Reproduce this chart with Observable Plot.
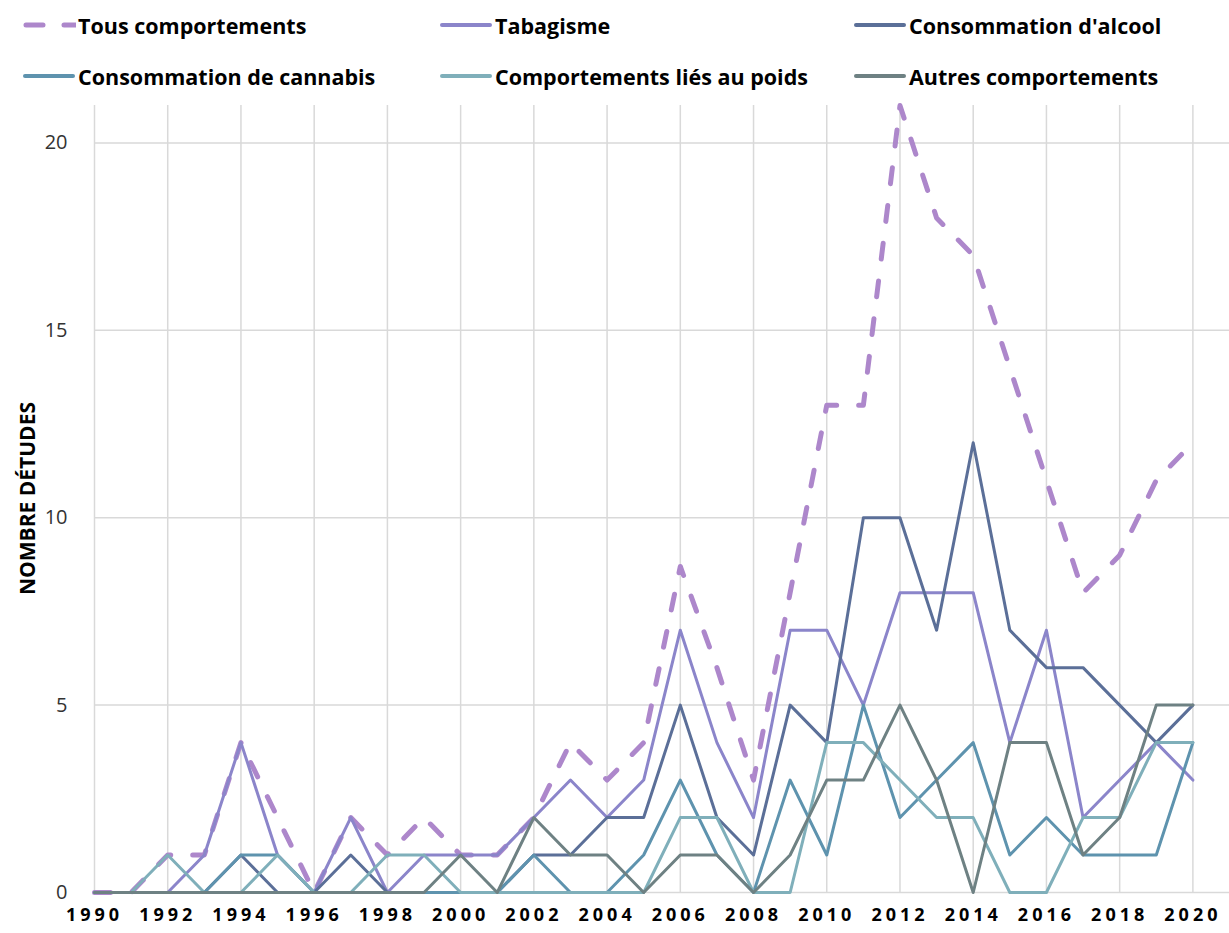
<!DOCTYPE html>
<html>
<head>
<meta charset="utf-8">
<script src="https://cdn.jsdelivr.net/npm/d3@7"></script>
<script src="https://cdn.jsdelivr.net/npm/@observablehq/plot@0.6"></script>
<style>
  html, body { margin: 0; padding: 0; background: #fff; }
  #wrap { position: relative; width: 1229px; height: 933px; font-family: "Open Sans", "Liberation Sans", sans-serif; }
  #legend { position: relative; width: 1229px; height: 95px; }
  .item { position: absolute; display: flex; align-items: center; height: 30px; white-space: nowrap;
          font-weight: 700; font-size: 21.5px; color: #000; letter-spacing: 0px; }
  .item svg { display: block; margin-right: 2px; }
  .xax text { letter-spacing: 4px; }
</style>
</head>
<body>
<div id="wrap">
  <div id="legend"></div>
  <div id="chart"></div>
</div>
<script>
// ---- data ----
const years = [1990,1991,1992,1993,1994,1995,1996,1997,1998,1999,2000,2001,2002,2003,2004,2005,2006,2007,2008,2009,2010,2011,2012,2013,2014,2015,2016,2017,2018,2019,2020];
const seriesNames = ["Tous comportements","Tabagisme","Consommation d'alcool","Consommation de cannabis","Comportements liés au poids","Autres comportements"];
const tous     = [0,0,1,1,4,2,0,2,1,2,1,1,2,4,3,4,8.7,6,3,8,13,13,21,18,17,14,11,8,9,11,12];
const tabac    = [0,0,0,1,4,1,0,2,0,1,1,1,2,3,2,3,7,4,2,7,7,5,8,8,8,4,7,2,3,4,3];
const alcool   = [0,0,0,0,1,0,0,1,0,0,0,0,1,1,2,2,5,2,1,5,4,10,10,7,12,7,6,6,5,4,5];
const cannabis = [0,0,0,0,1,1,0,0,0,0,0,0,1,0,0,1,3,1,0,3,1,5,2,3,4,1,2,1,1,1,4];
const poids    = [0,0,1,0,0,1,0,0,1,1,0,0,0,0,0,0,2,2,0,0,4,4,3,2,2,0,0,2,2,4,4];
const autres   = [0,0,0,0,0,0,0,0,0,0,1,0,2,1,1,0,1,1,0,1,3,3,5,3,0,4,4,1,2,5,5];
const xTicks = [1990,1992,1994,1996,1998,2000,2002,2004,2006,2008,2010,2012,2014,2016,2018,2020];
const yTicks = [0,5,10,15,20];
const yLabel = "NOMBRE DÉTUDES";

const colors = ["#ad87cb","#8b85ca","#5b6f98","#5e93ae","#7fafba","#6e8183"];
const allValues = [tous, tabac, alcool, cannabis, poids, autres];

const rows = [];
seriesNames.forEach((name, i) => {
  years.forEach((yr, j) => rows.push({serie: name, year: yr, value: allValues[i][j]}));
});

// ---- legend ----
const legend = document.getElementById("legend");
const colX = [20, 437, 851];
const rowY = [10, 61];
seriesNames.forEach((name, i) => {
  const div = document.createElement("div");
  div.className = "item";
  div.style.left = colX[i % 3] + "px";
  div.style.top = rowY[Math.floor(i / 3)] + "px";
  const dashed = i === 0;
  const sw = `<svg width="56" height="10"><line x1="${dashed ? 6 : 5}" y1="5" x2="${dashed ? 56 : 53}" y2="5" stroke="${colors[i]}" stroke-width="${dashed ? 5 : 4}" stroke-linecap="round" ${dashed ? 'stroke-dasharray="17,21"' : ''}/></svg>`;
  div.innerHTML = sw + `<span>${name}</span>`;
  legend.appendChild(div);
});

// ---- chart ----
const chart = Plot.plot({
  width: 1229,
  height: 838,
  marginTop: 10,
  marginBottom: 41,
  marginLeft: 94,
  marginRight: 0,
  style: {fontFamily: "'Open Sans', 'Liberation Sans', sans-serif", background: "#fff"},
  x: {domain: [1990, 2021]},
  y: {domain: [0, 21]},
  color: {domain: seriesNames, range: colors},
  marks: [
    Plot.gridX(xTicks, {stroke: "#d9d9d9", strokeOpacity: 1, strokeWidth: 1.5}),
    Plot.gridY(yTicks, {stroke: "#d9d9d9", strokeOpacity: 1, strokeWidth: 1.5}),
    Plot.axisX(xTicks, {tickSize: 0, tickPadding: 16, tickFormat: d => String(d), label: null,
      fontSize: 18, fontWeight: 700, fill: "#000", className: "xax"}),
    Plot.axisY(yTicks, {tickSize: 0, tickPadding: 27, label: null, fontSize: 20, fill: "#333"}),
    Plot.line(rows.filter(d => d.serie === seriesNames[0]), {
      x: "year", y: "value", stroke: "serie", strokeWidth: 5, strokeDasharray: "16,22", strokeLinecap: "round", strokeLinejoin: "round"
    }),
    Plot.line(rows.filter(d => d.serie !== seriesNames[0]), {
      x: "year", y: "value", z: "serie", stroke: "serie", strokeWidth: 3, strokeLinejoin: "round"
    }),
  ]
});
document.getElementById("chart").appendChild(chart);

// x tick labels letter-spacing
d3.select(chart).selectAll("g.xax text, .xax text").style("letter-spacing", "4px");

// y axis title
d3.select(chart).append("text")
  .attr("transform", `translate(35, ${(10 + (838 - 41)) / 2}) rotate(-90)`)
  .attr("text-anchor", "middle")
  .attr("font-size", 21)
  .attr("font-weight", 700)
  .attr("fill", "#000")
  .attr("font-family", "'Open Sans', 'Liberation Sans', sans-serif")
  .text(yLabel);
</script>
</body>
</html>
